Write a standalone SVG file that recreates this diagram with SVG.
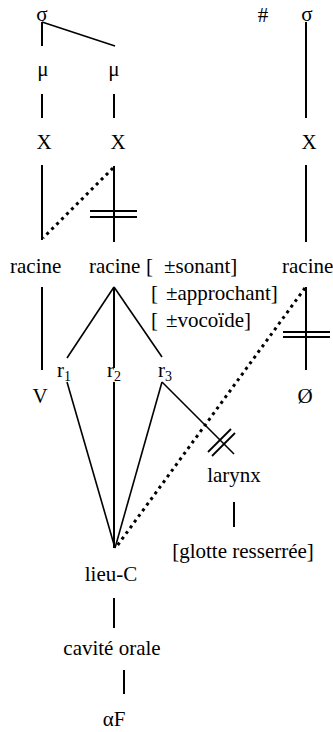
<svg xmlns="http://www.w3.org/2000/svg" width="333" height="732" viewBox="0 0 333 732">
<style>
text{font-family:"Liberation Serif","Times New Roman",serif;font-size:21px;fill:#000}
.sub{font-size:14px}
.c line{stroke:#000;stroke-width:2;fill:none}
.c line.d{stroke-width:1.6}
.c line.dot{stroke-width:3;stroke-dasharray:3 4}
.c line.bar{stroke-width:1.8}
</style>
<rect width="333" height="732" fill="#fff"/>
<g id="connectors" class="c">
<line x1="42" y1="22" x2="42" y2="46"/>
<line class="d" x1="42" y1="22" x2="115" y2="46"/>
<line x1="42" y1="94" x2="42" y2="118"/>
<line x1="114" y1="94" x2="114" y2="118"/>
<line x1="306" y1="22" x2="306" y2="118"/>
<line x1="42" y1="165" x2="42" y2="240"/>
<line x1="114" y1="166" x2="114" y2="242"/>
<line class="dot" x1="113" y1="168" x2="43" y2="238"/>
<line class="bar" x1="90" y1="211" x2="137" y2="211"/>
<line class="bar" x1="90" y1="217" x2="137" y2="217"/>
<line x1="306" y1="165" x2="306" y2="242"/>
<line x1="42" y1="287" x2="42" y2="370"/>
<line class="d" x1="114" y1="287" x2="67" y2="358"/>
<line x1="114" y1="287" x2="114" y2="368"/>
<line class="d" x1="114" y1="287" x2="162" y2="357"/>
<line x1="306" y1="287" x2="306" y2="370"/>
<line class="bar" x1="283" y1="332" x2="330" y2="332"/>
<line class="bar" x1="283" y1="337" x2="330" y2="337"/>
<line class="dot" x1="305" y1="288" x2="117" y2="546"/>
<line class="d" x1="67" y1="382" x2="115" y2="548"/>
<line x1="114" y1="382" x2="114" y2="548"/>
<line class="d" x1="162" y1="382" x2="115" y2="548"/>
<line class="d" x1="162" y1="382" x2="234" y2="454"/>
<line class="bar" x1="208" y1="452" x2="231" y2="429"/>
<line class="bar" x1="212" y1="456" x2="235" y2="433"/>
<line x1="234" y1="502" x2="234" y2="527"/>
<line x1="114" y1="598" x2="114" y2="628"/>
<line x1="124" y1="670" x2="124" y2="694"/>
</g>
<g id="sigma1"><text x="42" y="21" text-anchor="middle" font-size="23">σ</text></g>
<g id="hash"><text x="263" y="22" text-anchor="middle" font-size="16">#</text></g>
<g id="sigma2"><text x="307" y="21" text-anchor="middle" font-size="23">σ</text></g>
<g id="mu1"><text x="43" y="76" text-anchor="middle" font-size="23">μ</text></g>
<g id="mu2"><text x="114" y="76" text-anchor="middle" font-size="23">μ</text></g>
<g id="x1"><text x="44" y="149" text-anchor="middle">X</text></g>
<g id="x2"><text x="118" y="149" text-anchor="middle">X</text></g>
<g id="x3"><text x="309" y="149" text-anchor="middle">X</text></g>
<g id="racine1"><text x="10" y="273">racine</text></g>
<g id="racine2"><text x="89" y="273">racine</text>
<text x="146" y="273">[</text><text x="164" y="273">±sonant]</text>
<text x="151" y="300">[</text><text x="166" y="300">±approchant]</text>
<text x="151" y="327">[</text><text x="166" y="327">±vocoïde]</text></g>
<g id="racine3"><text x="282" y="273">racine</text></g>
<g id="r1"><text x="57" y="377">r<tspan class="sub" dy="4">1</tspan></text></g>
<g id="r2"><text x="107" y="377">r<tspan class="sub" dy="4">2</tspan></text></g>
<g id="r3"><text x="158" y="377">r<tspan class="sub" dy="4">3</tspan></text></g>
<g id="V"><text x="40" y="403" text-anchor="middle">V</text></g>
<g id="O"><text x="305" y="403" text-anchor="middle">Ø</text></g>
<g id="larynx"><text x="234" y="482" text-anchor="middle">larynx</text></g>
<g id="glotte"><text x="243" y="558" text-anchor="middle">[glotte resserrée]</text></g>
<g id="lieuC"><text x="111" y="581" text-anchor="middle">lieu-C</text></g>
<g id="cavite"><text x="112" y="655" text-anchor="middle">cavité orale</text></g>
<g id="alphaF"><text x="114" y="726" text-anchor="middle">αF</text></g>
</svg>
